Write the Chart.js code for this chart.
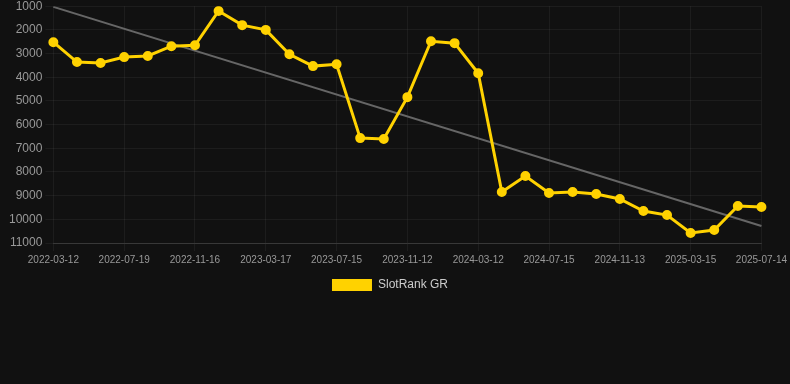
<!DOCTYPE html>
<html lang="en">
    <head>
        <meta charset="UTF-8" />
        <title>SlotRank GR</title>
        <script src="https://cdn.jsdelivr.net/npm/chart.js"></script>
        <style>
            body {
                margin: 0;
                background-color: #111111;
                overflow: hidden;
            }

            #wrap {
                width: 800px;
                height: 305px;
                margin-top: -4px;
                margin-left: -10px;
            }
        </style>
    </head>
    <body>
        <div id="wrap"><canvas id="rankChart"></canvas></div>

        <script>
            const dates = [
                '2022-03-12', '2022-04-24', '2022-06-06', '2022-07-19', '2022-08-28', '2022-10-07',
                '2022-11-16', '2022-12-26', '2023-02-04', '2023-03-17', '2023-04-26', '2023-06-05',
                '2023-07-15', '2023-08-24', '2023-10-03', '2023-11-12', '2023-12-22', '2024-02-01',
                '2024-03-12', '2024-04-23', '2024-06-03', '2024-07-15', '2024-08-24', '2024-10-04',
                '2024-11-13', '2024-12-23', '2025-02-02', '2025-03-15', '2025-04-24', '2025-06-03',
                '2025-07-14',
            ];

            const ranks = [
                2520, 3360, 3400, 3150, 3100, 2690, 2650, 1200, 1800, 2000,
                3030, 3530, 3450, 6570, 6610, 4840, 2480, 2560, 3830, 8850,
                8170, 8890, 8850, 8930, 9140, 9650, 9820, 10580, 10450, 9440,
                9480,
            ];

            // trend line end points
            const trendEnds = [1030, 10280];

            const trend = dates.map((d, i) => {
                if (i === 0) return trendEnds[0];
                if (i === dates.length - 1) return trendEnds[1];
                return null;
            });

            const ctx = document.getElementById('rankChart').getContext('2d');

            new Chart(ctx, {
                type: 'line',
                data: {
                    labels: dates,
                    datasets: [
                        {
                            label: 'SlotRank GR',
                            data: ranks,
                            borderColor: '#ffd200',
                            backgroundColor: '#ffd200',
                            borderWidth: 3,
                            pointRadius: 4,
                            pointBorderWidth: 2,
                            pointHoverRadius: 5,
                            tension: 0,
                        },
                        {
                            label: 'trend',
                            data: trend,
                            borderColor: '#666666',
                            borderWidth: 2,
                            pointRadius: 0,
                            spanGaps: true,
                        },
                    ],
                },
                options: {
                    responsive: true,
                    maintainAspectRatio: false,
                    animation: false,
                    plugins: {
                        legend: {
                            position: 'bottom',
                            labels: {
                                color: '#cccccc',
                                font: { family: 'Arial', size: 12 },
                                boxWidth: 40,
                                boxHeight: 12,
                                filter: (item) => item.text !== 'trend',
                                generateLabels: (chart) => {
                                    const items = Chart.defaults.plugins.legend.labels.generateLabels(chart);
                                    items.forEach((item) => {
                                        item.lineWidth = 0;
                                    });
                                    return items;
                                },
                            },
                        },
                        tooltip: { enabled: false },
                    },
                    scales: {
                        x: {
                            grid: { color: 'rgba(255,255,255,0.05)' },
                            border: { color: 'rgba(255,255,255,0.12)' },
                            ticks: {
                                color: '#999999',
                                font: { family: 'Arial', size: 10 },
                                maxRotation: 0,
                                autoSkip: true,
                                maxTicksLimit: 11,
                            },
                        },
                        y: {
                            reverse: true,
                            min: 1000,
                            max: 11000,
                            grid: { color: 'rgba(255,255,255,0.05)' },
                            border: { display: false },
                            ticks: {
                                stepSize: 1000,
                                color: '#999999',
                                font: { family: 'Arial', size: 12 },
                                callback: (v) => String(v),
                            },
                            afterFit: (scale) => {
                                scale.width += 16;
                            },
                        },
                    },
                },
            });
        </script>
    </body>
</html>
